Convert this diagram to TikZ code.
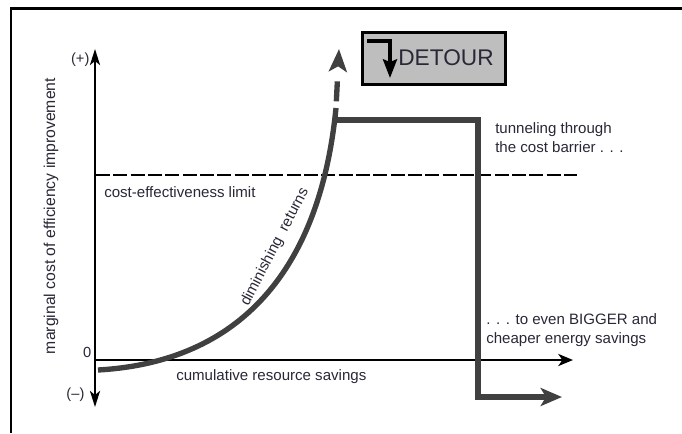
\documentclass[tikz,border=0pt]{standalone}
\usepackage{fontspec}
\setmainfont{Liberation Sans}
\usetikzlibrary{arrows.meta, positioning}
\definecolor{curvegray}{RGB}{64,64,64}
\definecolor{boxgray}{RGB}{190,190,190}
\definecolor{textgray}{RGB}{40,40,55}
\tikzstyle{axistext} = [
    text=textgray,
    font=\fontsize{11}{13}\selectfont,
    inner sep=1pt
]
\tikzstyle{notetext} = [
    text=textgray,
    font=\fontsize{11.3}{14.3}\selectfont,
    inner sep=0pt
]
\tikzstyle{axisline} = [line width=1.8pt, black]
\tikzstyle{limitline} = [line width=2.2pt, black, dash pattern=on 10.5pt off 2.5pt]
\tikzstyle{costcurve} = [line width=4pt, curvegray]
\tikzstyle{detourline} = [line width=4.5pt, curvegray]
\tikzstyle{detourbox} = [
    rectangle,
    minimum width=107pt,
    minimum height=38.7pt,
    draw=black,
    line width=2.5pt,
    fill=boxgray
]

\begin{document}
\begin{tikzpicture}[x=0.75pt, y=-0.75pt]
\useasboundingbox (0,0) rectangle (682,433);

% Frame
\draw[line width=2.2pt] (11,433) -- (11,8.5) -- (682,8.5);

% Coordinates
\coordinate (origin) at (95,360);
\coordinate (ytop) at (95,49);
\coordinate (ybot) at (95,407);
\coordinate (xend) at (573,360);
\coordinate (limA) at (96,175);
\coordinate (limB) at (577,175);
\coordinate (cstart) at (98,370);
\coordinate (cpeak) at (336,108);
\coordinate (ctip) at (339,49);
\coordinate (tunA) at (334,120);
\coordinate (tunB) at (478,120);
\coordinate (tunC) at (478,397);
\coordinate (tunD) at (562,397);
\coordinate (iconA) at (367,41);
\coordinate (iconB) at (390,41);
\coordinate (iconC) at (390,78);

% Axes
\draw[axisline, {Stealth[length=12pt,width=7.5pt,inset=3pt]}-{Stealth[length=12pt,width=7.5pt,inset=3pt]}] (ybot) -- (ytop);
\draw[axisline, -{Stealth[length=11pt,width=9pt,inset=3pt]}] (origin) -- (xend);
\node (plus) [axistext, anchor=east] at (91,60) {(+)};
\node (zero) [axistext, anchor=east] at (93,352) {0};
\node (minus) [axistext, anchor=east] at (86,395) {(--)};
\node (ylabel) [notetext, font=\fontsize{11.8}{14}\selectfont, rotate=90] at (51,216) {marginal cost of efficiency improvement};
\node (savings) [notetext, anchor=west] at (176,377) {cumulative resource savings};

% Limit
\draw[limitline] (limA) -- (limB);
\node (limit) [notetext, anchor=west] at (104,192) {cost-effectiveness limit};

% Curve
\draw[costcurve] (cstart) .. controls (240,362) and (320,270) .. (cpeak);
\draw[costcurve, dash pattern=on 0pt off 5pt on 15pt off 20pt, -{Stealth[length=17pt,width=13.5pt,inset=4pt]}] (cpeak) -- (ctip);
\node (dimret) [notetext, rotate=62.5] at (275,247) {diminishing\ \ returns};

% Detour
\draw[detourline, -{Stealth[length=16pt,width=13.5pt,inset=4pt]}] (tunA) -- (tunB) -- (tunC) -- (tunD);
\node (tunnel) [notetext, anchor=west, align=left] at (495,138) {tunneling through\\the cost barrier . . .};
\node (bigger) [notetext, anchor=west, align=left] at (486,330) {. . . to even BIGGER and\\cheaper energy savings};

% Box
\node (detour) [detourbox] at (434,58.5) {};
\node (detourtext) [text=textgray, font=\fontsize{17}{19}\selectfont, inner sep=0pt] at (446,58) {DETOUR};
\draw[line width=2.6pt, -{Stealth[length=14pt,width=10.5pt,inset=2pt]}] (iconA) -- (iconB) -- (iconC);

\end{tikzpicture}
\end{document}
